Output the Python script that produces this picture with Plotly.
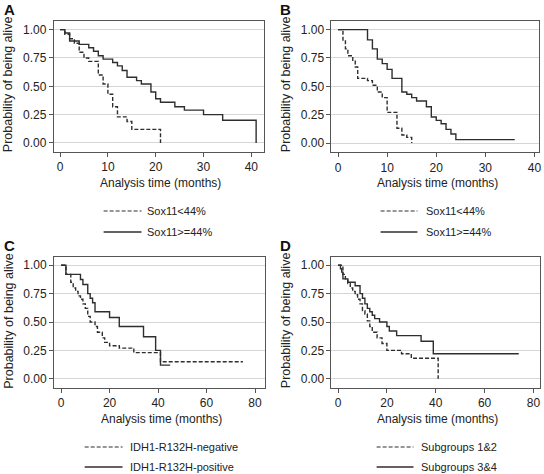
import plotly.graph_objects as go

# ---------------- data ----------------
A_neg_t = [0, 1, 2, 3, 4, 5, 6, 8, 9, 10, 11, 12, 14, 15, 21]
A_neg_s = [1.0, 0.96, 0.92, 0.88, 0.80, 0.75, 0.72, 0.60, 0.52, 0.43, 0.32, 0.23, 0.19, 0.12, 0.0]
A_pos_t = [0, 1, 2, 4, 6, 7, 8, 9, 11, 12, 13, 14, 16, 17, 19, 20, 21, 24, 26, 30, 34, 41]
A_pos_s = [1.0, 0.97, 0.90, 0.87, 0.84, 0.81, 0.77, 0.74, 0.71, 0.68, 0.64, 0.58, 0.55, 0.52,
           0.45, 0.39, 0.36, 0.32, 0.29, 0.25, 0.20, 0.0]

B_neg_t = [0, 1, 1.5, 2, 3, 3.5, 4, 6, 7, 8, 9, 10, 12, 13, 14, 15]
B_neg_s = [1.0, 0.90, 0.83, 0.77, 0.73, 0.67, 0.57, 0.55, 0.51, 0.45, 0.40, 0.27, 0.13, 0.07, 0.05, 0.0]
B_pos_t = [0, 6, 7, 8, 9, 10, 11, 13, 14, 15, 16, 18, 19, 20, 21, 22, 23, 24, 36]
B_pos_s = [1.0, 0.91, 0.83, 0.74, 0.70, 0.65, 0.57, 0.45, 0.43, 0.40, 0.37, 0.32, 0.23, 0.20,
           0.17, 0.12, 0.08, 0.03, 0.03]

C_neg_t = [0, 2, 4, 5, 6, 7, 8, 9, 10, 11, 12, 14, 15, 17, 18, 20, 24, 30, 41, 75]
C_neg_s = [1.0, 0.92, 0.85, 0.80, 0.77, 0.73, 0.70, 0.66, 0.62, 0.55, 0.50, 0.46, 0.41, 0.36,
           0.32, 0.29, 0.27, 0.23, 0.15, 0.15]
C_pos_t = [0, 2, 8, 9, 11, 12, 13, 14, 20, 24, 34, 39, 41, 45]
C_pos_s = [1.0, 0.92, 0.875, 0.83, 0.75, 0.71, 0.67, 0.59, 0.54, 0.46, 0.37, 0.25, 0.12, 0.12]

D_neg_t = [0, 2, 3, 4, 5, 6, 7, 8, 9, 10, 11, 12, 13, 14, 16, 18, 20, 26, 30, 41]
D_neg_s = [1.0, 0.92, 0.88, 0.84, 0.80, 0.77, 0.74, 0.70, 0.66, 0.60, 0.57, 0.51, 0.46, 0.41,
           0.36, 0.31, 0.25, 0.22, 0.18, 0.0]
D_pos_t = [0, 1, 1.5, 2, 4, 7, 9, 10, 11, 12, 13, 14, 15, 17, 20, 21, 24, 34, 39, 74]
D_pos_s = [1.0, 0.97, 0.94, 0.88, 0.85, 0.82, 0.75, 0.71, 0.66, 0.62, 0.59, 0.56, 0.53, 0.50,
           0.46, 0.42, 0.38, 0.33, 0.22, 0.22]

panel_letters = ["A", "B", "C", "D"]
legend_neg = ["Sox11<44%", "Sox11<44%", "IDH1-R132H-negative", "Subgroups 1&2"]
legend_pos = ["Sox11>=44%", "Sox11>=44%", "IDH1-R132H-positive", "Subgroups 3&4"]
y_tickvals = [0, 0.25, 0.5, 0.75, 1.0]
y_ticktext = ["0.00", "0.25", "0.50", "0.75", "1.00"]
x_ticks_AB = [0, 10, 20, 30, 40]
x_ticks_CD = [0, 20, 40, 60, 80]
x_title = "Analysis time (months)"
y_title = "Probability of being alive"

# ---------------- layout helpers ----------------
W, H = 544, 474
FONT = "Liberation Sans, Arial, sans-serif"
LINE = "#2e2e2e"
FRAME = "#555555"

def px(x):
    return x / W

def py(y):
    return 1 - y / H

# frame boxes (pixels): left, right, top, bottom ; axis ranges
panels = [
    dict(box=(54, 265, 20.7, 151.7), xr=[-1.31, 42.65], yr=[-0.077, 1.079], xt=x_ticks_AB,
         neg=(A_neg_t, A_neg_s), pos=(A_pos_t, A_pos_s)),
    dict(box=(332.7, 541.3, 20.7, 152.3), xr=[-1.34, 41.0], yr=[-0.082, 1.079], xt=x_ticks_AB,
         neg=(B_neg_t, B_neg_s), pos=(B_pos_t, B_pos_s)),
    dict(box=(54.3, 265.7, 257.3, 387.7), xr=[-2.88, 84.0], yr=[-0.0794, 1.0705], xt=x_ticks_CD,
         neg=(C_neg_t, C_neg_s), pos=(C_pos_t, C_pos_s)),
    dict(box=(332.7, 542, 257.3, 387.7), xr=[-2.69, 82.7], yr=[-0.0794, 1.0705], xt=x_ticks_CD,
         neg=(D_neg_t, D_neg_s), pos=(D_pos_t, D_pos_s)),
]

fig = go.Figure()
annotations = []
shapes = []

legend_geo = [
    dict(x0=104, x1=142, tx=146, y1=211, y2=232),
    dict(x0=382, x1=419, tx=426, y1=211, y2=232),
    dict(x0=85, x1=123, tx=128, y1=447, y2=467),
    dict(x0=378, x1=415, tx=421, y1=447, y2=467),
]
letter_pos = [(2, 10), (279, 10), (2, 245), (279, 245)]

for i, p in enumerate(panels):
    k = "" if i == 0 else str(i + 1)
    xa, ya = "x" + k, "y" + k
    l, r, t, b = p["box"]
    axis_common = dict(showline=True, mirror=True, linecolor=FRAME, linewidth=1,
                       ticks="outside", ticklen=4, tickcolor=FRAME, tickwidth=1,
                       zeroline=False, tickfont=dict(family=FONT, size=12, color="#222"))
    fig.layout["xaxis" + k] = dict(domain=[px(l), px(r)], range=p["xr"], anchor=ya,
                                   tickvals=p["xt"], showgrid=False, **axis_common)
    fig.layout["yaxis" + k] = dict(domain=[py(b), py(t)], range=p["yr"], anchor=xa,
                                   tickvals=y_tickvals, ticktext=y_ticktext,
                                   showgrid=True, gridcolor="#d6d6d6", gridwidth=1,
                                   **axis_common)
    fig.add_trace(go.Scatter(x=p["pos"][0], y=p["pos"][1], mode="lines", line_shape="hv",
                             line=dict(color=LINE, width=1.4), xaxis=xa, yaxis=ya,
                             showlegend=False, hoverinfo="skip"))
    fig.add_trace(go.Scatter(x=p["neg"][0], y=p["neg"][1], mode="lines", line_shape="hv",
                             line=dict(color=LINE, width=1.4, dash="4px,2px"), xaxis=xa, yaxis=ya,
                             showlegend=False, hoverinfo="skip"))
    # axis titles
    annotations.append(dict(text=x_title, x=px((l + r) / 2 + 2), y=py(b + 31), xref="paper",
                            yref="paper", showarrow=False, xanchor="center", yanchor="middle",
                            font=dict(family=FONT, size=12, color="#222")))
    annotations.append(dict(text=y_title, x=px(l - 46), y=py((t + b) / 2 - 2), xref="paper",
                            yref="paper", showarrow=False, textangle=-90, xanchor="center",
                            yanchor="middle", font=dict(family=FONT, size=12.5, color="#222")))
    # panel letter
    lx, ly = letter_pos[i]
    annotations.append(dict(text="<b>" + panel_letters[i] + "</b>", x=px(lx), y=py(ly),
                            xref="paper", yref="paper", showarrow=False, xanchor="left",
                            yanchor="middle", font=dict(family=FONT, size=15, color="#111")))
    # legend
    g = legend_geo[i]
    shapes.append(dict(type="line", xref="paper", yref="paper", x0=px(g["x0"]), x1=px(g["x1"]),
                       y0=py(g["y1"]), y1=py(g["y1"]), line=dict(color=LINE, width=1.2, dash="4px,2px")))
    shapes.append(dict(type="line", xref="paper", yref="paper", x0=px(g["x0"]), x1=px(g["x1"]),
                       y0=py(g["y2"]), y1=py(g["y2"]), line=dict(color=LINE, width=1.3)))
    annotations.append(dict(text=legend_neg[i], x=px(g["tx"]), y=py(g["y1"]), xref="paper",
                            yref="paper", showarrow=False, xanchor="left", yanchor="middle",
                            font=dict(family=FONT, size=11, color="#222")))
    annotations.append(dict(text=legend_pos[i], x=px(g["tx"]), y=py(g["y2"]), xref="paper",
                            yref="paper", showarrow=False, xanchor="left", yanchor="middle",
                            font=dict(family=FONT, size=11, color="#222")))

fig.update_layout(width=W, height=H, margin=dict(l=0, r=0, t=0, b=0),
                  paper_bgcolor="white", plot_bgcolor="white",
                  annotations=annotations, shapes=shapes, showlegend=False)

fig.write_html("out.html", config={"displayModeBar": False},
               post_script="document.body.style.margin='0';document.body.style.overflow='hidden';")
